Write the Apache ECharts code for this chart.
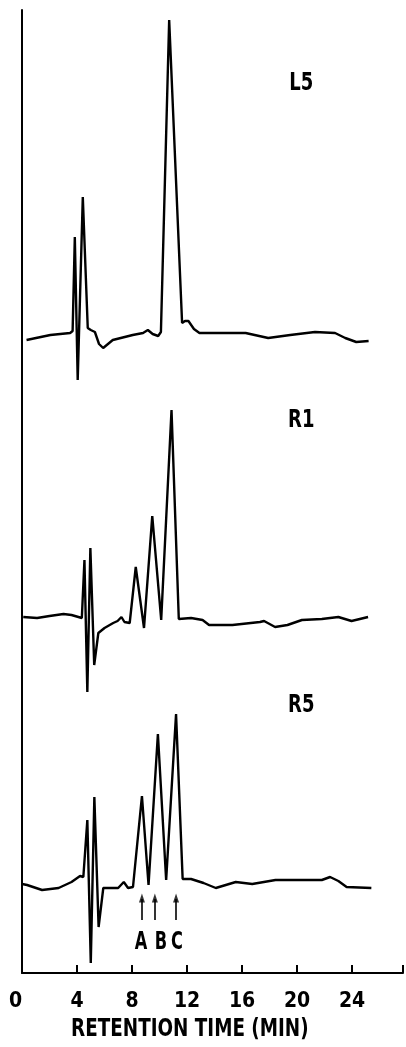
<!DOCTYPE html>
<html>
<head>
<meta charset="utf-8">
<script src="https://cdn.jsdelivr.net/npm/echarts@6/dist/echarts.min.js"></script>
<style>html,body{margin:0;padding:0;background:#fff}#c{width:406px;height:1047px}</style>
</head>
<body>
<div id="c"></div>
<script>
// Retention time (min) vs. detector response (arbitrary units, traces offset)
const L5 = [[0.33,633],[2.06,638],[3.5,640],[3.68,642],[3.84,736],[4.05,593],[4.42,776],[4.78,645],[5.0,643],[5.3,641],[5.6,629],[5.9,625],[6.6,633],[8.05,638],[8.8,640],[9.15,643],[9.5,639],[9.9,637],[10.1,641],[10.7,953],[11.64,650],[11.85,652],[12.1,652],[12.5,644],[12.9,640],[14.8,640],[16.26,640],[17.9,635],[19.5,638],[21.3,641],[22.76,640],[23.5,635],[24.3,631],[25.2,632]];
const R1 = [[0.09,356],[1.1,355],[2.0,357],[3.02,359],[3.6,358],[4.35,355],[4.54,413],[4.75,281],[4.97,425],[5.25,308],[5.55,340],[6.0,345],[6.63,350],[6.95,352],[7.23,356],[7.45,351],[7.83,350],[8.27,406],[8.87,345],[9.47,457],[10.12,353],[10.87,563],[11.4,354],[12.29,355],[13.13,353],[13.6,348],[15.3,348],[17.3,351],[17.6,352],[18.4,346],[19.3,348],[20.35,353],[21.8,354],[23.0,356],[23.96,352],[25.16,356]];
const R5 = [[0.01,89],[0.37,88],[1.46,83],[2.66,85],[3.6,91],[4.22,97],[4.46,96],[4.75,153],[5.0,10],[5.26,176],[5.57,46],[5.91,85],[6.99,85],[7.4,91],[7.71,85],[8.07,86],[8.72,177],[9.2,88],[9.88,239],[10.48,93],[11.2,259],[11.68,94],[12.29,94],[13.2,90],[14.09,85],[15.54,91],[16.74,89],[18.43,93],[21.8,93],[22.4,96],[23.0,92],[23.6,86],[25.4,85]];
const traceNames = ['L5','R1','R5'];
const traceLabelAt = [[20.3,890],[20.3,553],[20.3,268]];
const peakArrowTimes = [8.72, 9.66, 11.2];
const peakLetters = ['A','B','C'];
const peakLetterTimes = [8.66, 10.1, 11.26];
const xTicks = [0,4,8,12,16,20,24];
const xTitle = 'RETENTION TIME (MIN)';

const FONT = "'DejaVu Sans Condensed','DejaVu Sans',sans-serif";
const chart = echarts.init(document.getElementById('c'), null, {renderer:'canvas'});
const lineStyle = {color:'#000', width:2.4};
const traces = [L5,R1,R5].map((d,i)=>({
  type:'line', name:traceNames[i], data:d, symbol:'none', smooth:false,
  lineStyle, animation:false, z:3
}));
const arrowShafts = {
  type:'line', data:[], symbol:'none',
  markLine:{
    silent:true, symbol:['none','none'], label:{show:false},
    lineStyle:{color:'#000', width:1.6, type:'solid'},
    data: peakArrowTimes.map(t=>[{coord:[t,53]},{coord:[t,74]}])
  },
  animation:false, silent:true
};
const arrowHeads = {
  type:'scatter', symbol:'triangle', symbolSize:[6,9],
  itemStyle:{color:'#000'},
  data: peakArrowTimes.map(t=>[t,75]),
  animation:false, silent:true, z:4
};
chart.setOption({
  backgroundColor:'#fff',
  animation:false,
  grid:{left:22, right:1, top:10, bottom:74, containLabel:false},
  xAxis:{
    type:'value', min:0, max:27.7, interval:4,
    axisLine:{show:true, onZero:false, lineStyle:{color:'#000', width:2}},
    axisTick:{show:true, inside:true, length:8, lineStyle:{color:'#000', width:2}},
    splitLine:{show:false},
    axisLabel:{color:'#000', fontFamily:FONT, fontWeight:'bold', fontSize:21, margin:18,
      formatter:v=> v===0 ? '{z|0}' : (xTicks.indexOf(v)>=0 ? String(v) : ''),
      rich:{z:{color:'#000', fontFamily:FONT, fontWeight:'bold', fontSize:21, padding:[0,13,0,0]}}}
  },
  yAxis:{
    type:'value', min:0, max:963,
    axisLine:{show:true, lineStyle:{color:'#000', width:2}},
    axisTick:{show:false}, axisLabel:{show:false}, splitLine:{show:false}
  },
  series:[...traces, arrowShafts, arrowHeads]
});

// Text annotations placed through the chart's own coordinate conversion
function txt(text, p, size, sx){
  return {type:'text', x:p[0], y:p[1], scaleX:sx, z:10, silent:true,
    style:{text, fill:'#000', font:'bold '+size+'px '+FONT, align:'center', verticalAlign:'middle'}};
}
const g = [];
traceNames.forEach((n,i)=>g.push(txt(n, chart.convertToPixel({gridIndex:0}, traceLabelAt[i]), 25, 0.8)));
peakLetters.forEach((n,i)=>g.push(txt(n, chart.convertToPixel({gridIndex:0}, [peakLetterTimes[i],31]), 25, 0.72)));
const mid = chart.convertToPixel({gridIndex:0}, [12.2, 0]);
g.push(txt(xTitle, [mid[0], mid[1]+57], 24, 0.85));
chart.setOption({graphic:g});
</script>
</body>
</html>
